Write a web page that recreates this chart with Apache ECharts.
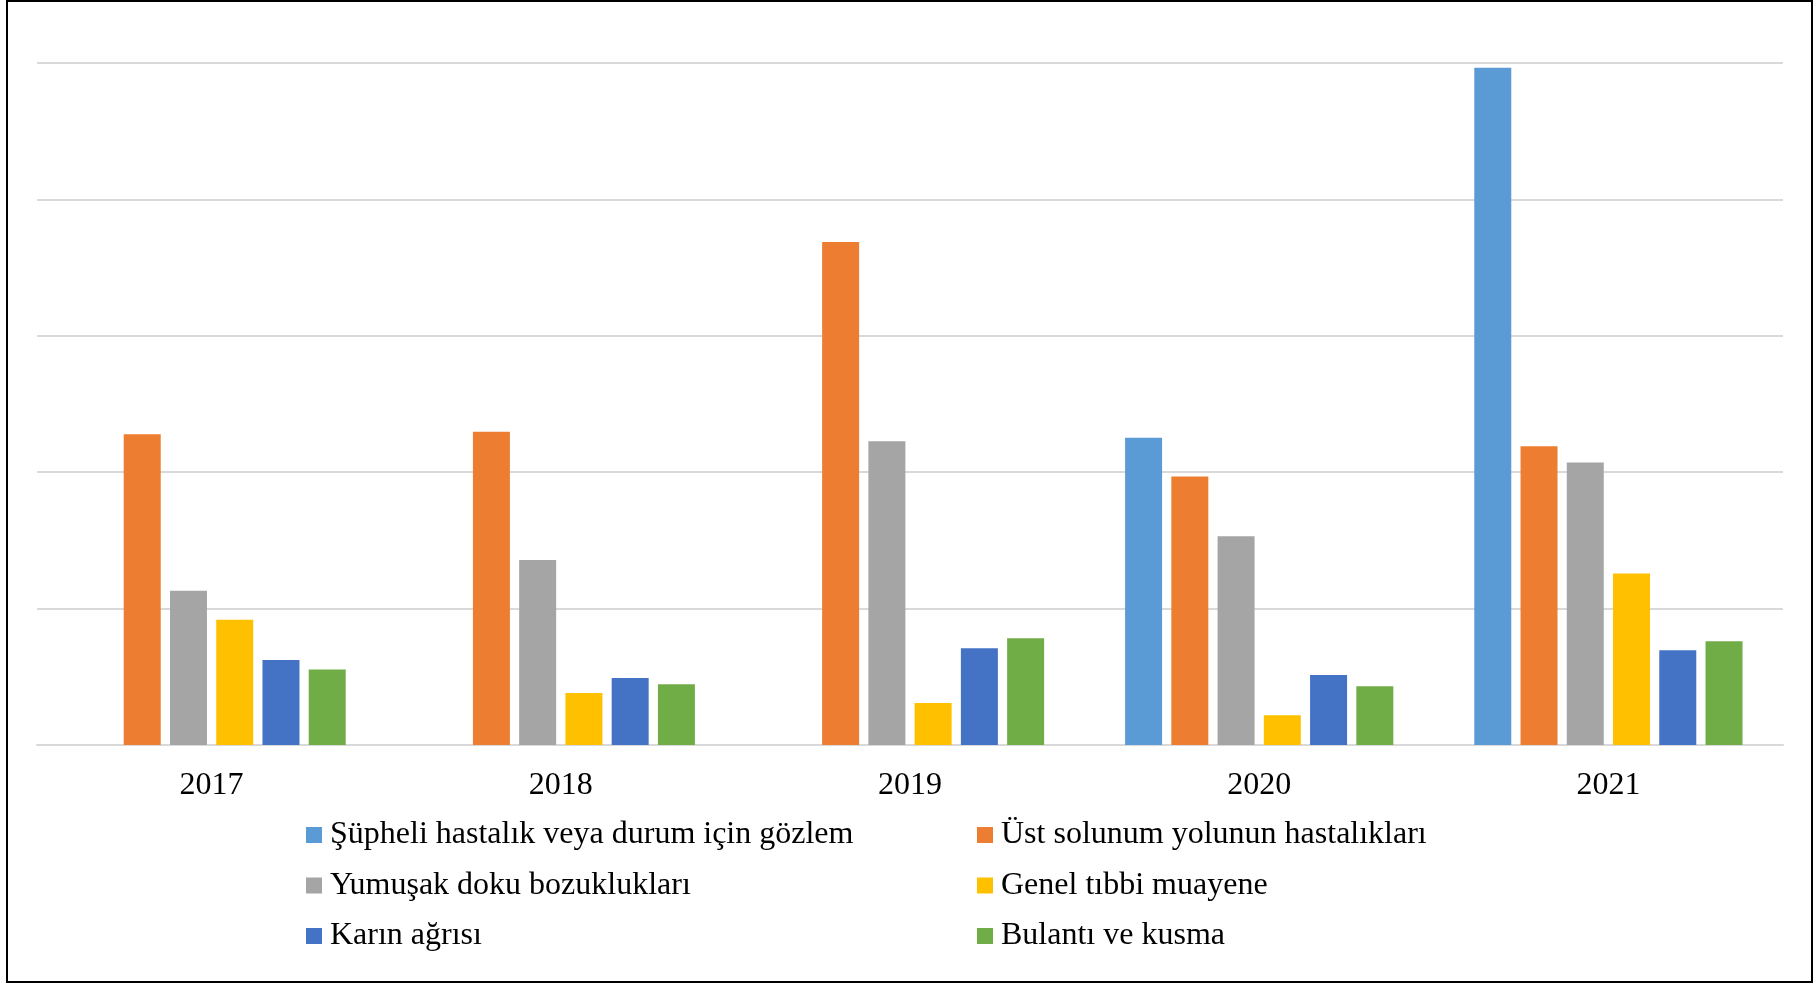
<!DOCTYPE html>
<html>
<head>
<meta charset="utf-8">
<script src="https://cdn.jsdelivr.net/npm/echarts@6/dist/echarts.min.js"></script>
<style>
  html, body { margin: 0; padding: 0; background: #fff; }
  #chart { width: 1814px; height: 983px; }
</style>
</head>
<body>
<div id="chart"></div>
<script>
// Years on the category axis
const years = ['2017', '2018', '2019', '2020', '2021'];

// Series names (legend order)
const seriesNames = [
  'Şüpheli hastalık veya durum için gözlem',
  'Üst solunum yolunun hastalıkları',
  'Yumuşak doku bozuklukları',
  'Genel tıbbi muayene',
  'Karın ağrısı',
  'Bulantı ve kusma'
];

// Values per series, one per year
const supheliGozlem   = [null, null, null, 2252, 4965];
const ustSolunum      = [2279, 2296, 3687, 1968, 2191];
const yumusakDoku     = [1131, 1356, 2226, 1530, 2071];
const genelMuayene    = [918, 382, 308, 218, 1258];
const karinAgrisi     = [624, 492, 710, 514, 695];
const bulantiKusma    = [553, 446, 782, 431, 761];

// Value-axis range and step for gridlines
const yMin = 0;
const yMax = 5000;
const yStep = 1000;

const colors = ['#5B9BD5', '#ED7D31', '#A5A5A5', '#FFC000', '#4472C4', '#70AD47'];
const seriesValues = [supheliGozlem, ustSolunum, yumusakDoku, genelMuayene, karinAgrisi, bulantiKusma];

const serif = '"Liberation Serif", "Times New Roman", serif';

const chart = echarts.init(document.getElementById('chart'));

const legendText = {
  fontFamily: serif,
  fontSize: 32,
  color: '#000',
  padding: [0, 0, 0, 3]
};

chart.setOption({
  animation: false,
  backgroundColor: '#fff',
  color: colors,
  grid: { left: 37, right: 31, top: 63, bottom: 238, containLabel: false },
  legend: [
    {
      orient: 'vertical',
      left: 306,
      top: 819,
      padding: 0,
      itemWidth: 16,
      itemHeight: 16,
      itemGap: 18.5,
      icon: 'rect',
      data: [seriesNames[0], seriesNames[2], seriesNames[4]],
      textStyle: legendText
    },
    {
      orient: 'vertical',
      left: 977,
      top: 819,
      padding: 0,
      itemWidth: 16,
      itemHeight: 16,
      itemGap: 18.5,
      icon: 'rect',
      data: [seriesNames[1], seriesNames[3], seriesNames[5]],
      textStyle: legendText
    }
  ],
  xAxis: {
    type: 'category',
    data: years,
    axisTick: { show: false },
    axisLine: { show: true, lineStyle: { color: '#D9D9D9', width: 2 } },
    axisLabel: {
      fontFamily: serif,
      fontSize: 32,
      color: '#000',
      margin: 25
    }
  },
  yAxis: {
    type: 'value',
    min: yMin,
    max: yMax,
    interval: yStep,
    axisLabel: { show: false },
    axisLine: { show: false },
    axisTick: { show: false },
    splitLine: { show: true, lineStyle: { color: '#D9D9D9', width: 2 } }
  },
  series: seriesNames.map((name, i) => ({
    name: name,
    type: 'bar',
    data: seriesValues[i],
    barWidth: 37,
    barGap: '25%',
    itemStyle: { color: colors[i] }
  })),
  graphic: [
    {
      type: 'rect',
      shape: { x: 7, y: 1, width: 1805, height: 981 },
      style: { fill: 'none', stroke: '#000', lineWidth: 2 },
      silent: true
    }
  ]
});
</script>
</body>
</html>
